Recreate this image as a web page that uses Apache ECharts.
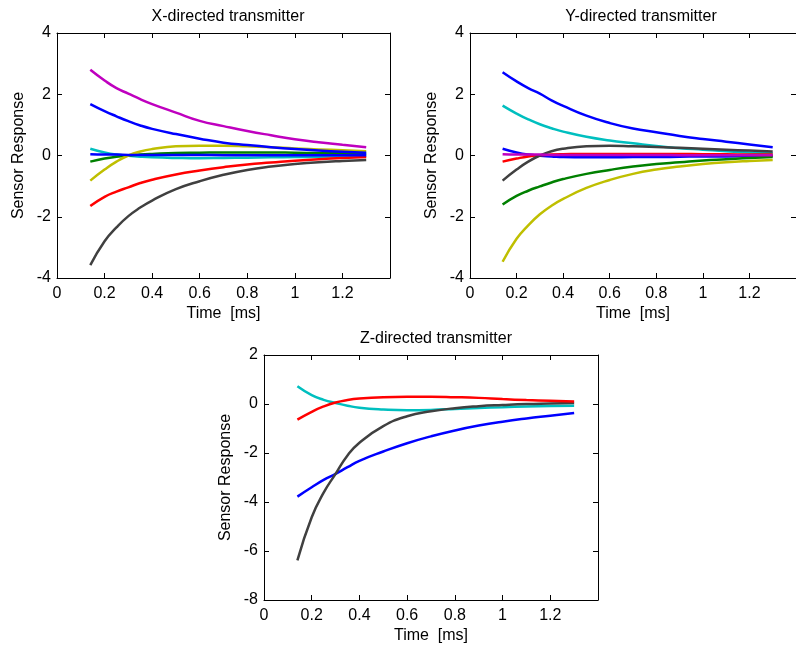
<!DOCTYPE html>
<html>
<head>
<meta charset="utf-8">
<script src="https://cdn.jsdelivr.net/npm/echarts@6/dist/echarts.min.js"></script>
<style>
html,body{margin:0;padding:0;background:#fff;}
#chart{width:796px;height:649px;}
</style>
</head>
<body>
<div id="chart"></div>
<script>
// ---- data ----
const time = [0.14, 0.2, 0.25, 0.3, 0.35, 0.4, 0.5, 0.6, 0.7, 0.8, 0.9, 1.0, 1.1, 1.2, 1.3];

const titles = ['X-directed transmitter', 'Y-directed transmitter', 'Z-directed transmitter'];
const xTicks = [0, 0.2, 0.4, 0.6, 0.8, 1, 1.2];
const xName = 'Time  [ms]';
const yName = 'Sensor Response';

// X-directed transmitter
const xCyan    = [0.22, 0.1, 0.03, -0.01, -0.04, -0.06, -0.08, -0.09, -0.08, -0.07, -0.06, -0.05, -0.04, -0.03, -0.02];
const xGreen   = [-0.2, -0.1, -0.04, 0.0, 0.03, 0.05, 0.08, 0.09, 0.1, 0.1, 0.1, 0.09, 0.08, 0.07, 0.06];
const xYellow  = [-0.82, -0.46, -0.2, 0.0, 0.13, 0.21, 0.3, 0.32, 0.32, 0.3, 0.27, 0.23, 0.2, 0.17, 0.14];
const xMagenta = [2.8, 2.45, 2.2, 2.02, 1.84, 1.68, 1.4, 1.13, 0.96, 0.8, 0.66, 0.53, 0.43, 0.35, 0.27];
const xBlueUp  = [1.68, 1.45, 1.28, 1.12, 0.98, 0.87, 0.7, 0.55, 0.42, 0.34, 0.27, 0.21, 0.16, 0.12, 0.09];
const xRed     = [-1.65, -1.35, -1.18, -1.04, -0.9, -0.79, -0.62, -0.49, -0.38, -0.29, -0.23, -0.17, -0.12, -0.08, -0.05];
const xGray    = [-3.58, -2.8, -2.35, -1.98, -1.7, -1.47, -1.1, -0.84, -0.63, -0.47, -0.36, -0.28, -0.22, -0.18, -0.15];
const xBlueFl  = [0.04, 0.03, 0.03, 0.02, 0.02, 0.02, 0.02, 0.02, 0.01, 0.01, 0.01, 0.01, 0.01, 0.01, 0.01];

// Y-directed transmitter
const yBlueUp  = [2.72, 2.42, 2.2, 2.02, 1.8, 1.62, 1.3, 1.06, 0.88, 0.76, 0.64, 0.54, 0.45, 0.36, 0.27];
const yCyan    = [1.63, 1.37, 1.18, 1.02, 0.89, 0.78, 0.61, 0.49, 0.4, 0.31, 0.24, 0.19, 0.14, 0.1, 0.07];
const yBlueSm  = [0.22, 0.1, 0.03, -0.01, -0.03, -0.05, -0.06, -0.06, -0.05, -0.05, -0.04, -0.03, -0.03, -0.02, -0.02];
const yRed     = [-0.2, -0.1, -0.03, 0.01, 0.03, 0.04, 0.05, 0.05, 0.05, 0.05, 0.05, 0.04, 0.04, 0.03, 0.03];
const yGray    = [-0.82, -0.46, -0.2, 0.0, 0.14, 0.22, 0.3, 0.32, 0.3, 0.28, 0.25, 0.22, 0.19, 0.16, 0.13];
const yGreen   = [-1.6, -1.32, -1.15, -1.01, -0.88, -0.77, -0.6, -0.47, -0.36, -0.28, -0.22, -0.16, -0.12, -0.08, -0.05];
const yYellow  = [-3.47, -2.72, -2.28, -1.92, -1.64, -1.42, -1.06, -0.8, -0.6, -0.46, -0.36, -0.28, -0.22, -0.18, -0.15];
const yMagenta = [0.04, 0.03, 0.03, 0.03, 0.02, 0.02, 0.02, 0.02, 0.02, 0.02, 0.01, 0.01, 0.01, 0.01, 0.01];

// Z-directed transmitter
const zCyan    = [0.72, 0.36, 0.17, 0.04, -0.07, -0.15, -0.22, -0.25, -0.24, -0.2, -0.16, -0.13, -0.1, -0.08, -0.07];
const zBlue    = [-3.78, -3.4, -3.1, -2.85, -2.58, -2.32, -1.94, -1.6, -1.32, -1.08, -0.88, -0.72, -0.59, -0.48, -0.37];
const zGray    = [-6.38, -4.62, -3.62, -2.85, -2.1, -1.58, -0.9, -0.5, -0.3, -0.17, -0.09, -0.04, 0.0, 0.02, 0.04];
const zRed     = [-0.64, -0.32, -0.1, 0.06, 0.16, 0.22, 0.28, 0.3, 0.3, 0.28, 0.25, 0.2, 0.16, 0.13, 0.1];

// ---- styling ----
const C = {m:'#bf00bf', b:'#0000ff', c:'#00bfbf', g:'#008000', y:'#bfbf00', r:'#ff0000', k:'#404040'};
const FONT = 'Liberation Sans, Arial, sans-serif';

const panels = [
  {grid:{left:57, top:33, width:333, height:245}, ymin:-4, ymax:4, yint:2, titleX:223, titleY:4,
   lines:[[xCyan,C.c],[xGreen,C.g],[xYellow,C.y],[xMagenta,C.m],[xBlueUp,C.b],[xRed,C.r],[xGray,C.k],[xBlueFl,C.b]]},
  {grid:{left:470, top:33, width:333, height:245}, ymin:-4, ymax:4, yint:2, titleX:636, titleY:4,
   lines:[[yBlueUp,C.b],[yCyan,C.c],[yBlueSm,C.b],[yRed,C.r],[yGray,C.k],[yGreen,C.g],[yYellow,C.y],[yMagenta,C.m]]},
  {grid:{left:264, top:355, width:334, height:245}, ymin:-8, ymax:2, yint:2, titleX:431, titleY:326,
   lines:[[zCyan,C.c],[zBlue,C.b],[zGray,C.k],[zRed,C.r]]}
];

const option = {animation:false, backgroundColor:'#fff', title:[], grid:[], xAxis:[], yAxis:[], series:[]};
const axLine = {show:true, onZero:false, lineStyle:{color:'#000', width:1}};
const tick = {show:true, inside:true, length:5, lineStyle:{color:'#000'}};
const lbl = {color:'#000', fontFamily:FONT, fontSize:16};

panels.forEach((p, i) => {
  option.title.push({text:titles[i], left:p.titleX, top:p.titleY, textAlign:'center',
    textStyle:{color:'#000', fontFamily:FONT, fontSize:16, fontWeight:'normal'}});
  option.grid.push(Object.assign({containLabel:false}, p.grid));
  // bottom x
  option.xAxis.push({type:'value', gridIndex:i, min:0, max:1.4, interval:0.2, position:'bottom',
    axisLine:axLine, axisTick:tick, splitLine:{show:false},
    axisLabel:Object.assign({margin:8, showMaxLabel:false,
      formatter:v => { const r = Math.round(v*10)/10; return xTicks.indexOf(r) >= 0 ? String(r) : ''; }}, lbl),
    name:xName, nameLocation:'middle', nameGap:28, nameTextStyle:lbl});
  // top x (frame)
  option.xAxis.push({type:'value', gridIndex:i, min:0, max:1.4, interval:0.2, position:'top',
    axisLine:axLine, axisTick:tick, axisLabel:{show:false}, splitLine:{show:false}});
  // left y
  option.yAxis.push({type:'value', gridIndex:i, min:p.ymin, max:p.ymax, interval:p.yint, position:'left',
    axisLine:axLine, axisTick:tick, splitLine:{show:false},
    axisLabel:Object.assign({margin:6}, lbl),
    name:yName, nameLocation:'middle', nameGap:30, nameRotate:90, nameTextStyle:lbl});
  // right y (frame)
  option.yAxis.push({type:'value', gridIndex:i, min:p.ymin, max:p.ymax, interval:p.yint, position:'right',
    axisLine:axLine, axisTick:tick, axisLabel:{show:false}, splitLine:{show:false}});
  p.lines.forEach(([vals, col]) => {
    option.series.push({type:'line', xAxisIndex:2*i, yAxisIndex:2*i, smooth:true, showSymbol:false,
      symbol:'none', silent:true, lineStyle:{color:col, width:2.5}, itemStyle:{color:col},
      data: time.map((t, k) => [t, vals[k]])});
  });
});

const chart = echarts.init(document.getElementById('chart'), null, {renderer:'canvas'});
chart.setOption(option);
</script>
</body>
</html>
